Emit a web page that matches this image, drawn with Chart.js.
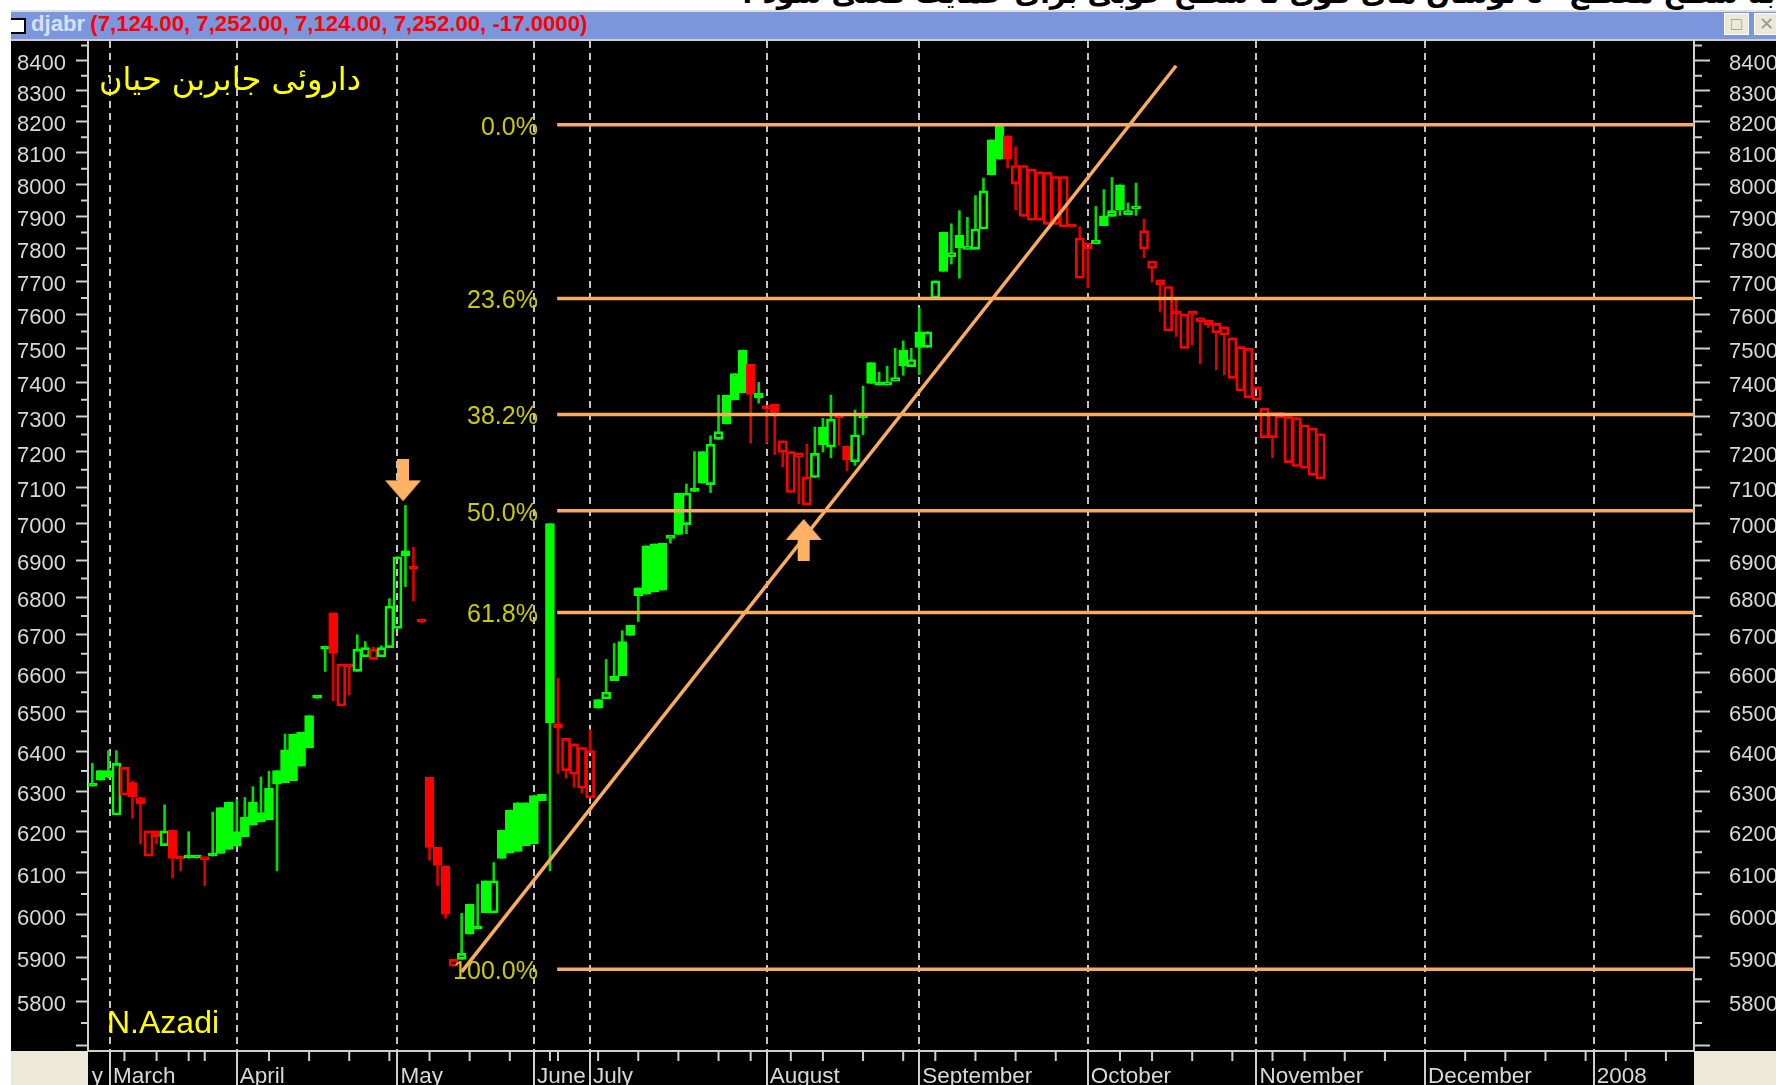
<!DOCTYPE html>
<html>
<head>
<meta charset="utf-8">
<title>djabr</title>
<script src="https://cdn.jsdelivr.net/npm/chart.js@4/dist/chart.umd.min.js"></script>
<style>
html, body { margin: 0; padding: 0; background: #fff; overflow: hidden; }
#stage { position: relative; width: 1776px; height: 1085px; overflow: hidden; }
#stage div { position: absolute; }
#caption { left: 742px; top: -23px; width: 1060px; text-align: left; direction: rtl; font: bold 28px "DejaVu Sans"; color: #000; white-space: nowrap; }
#bar { left: 11px; top: 10px; right: 0; height: 31px; background: #7b96dd; border-top: 2px solid #ddd; border-bottom: 2px solid #ccc; box-sizing: border-box; font: bold 22.2px "Liberation Sans"; line-height: 24px; white-space: nowrap; }
#bar span { color: #ff0000; }
#bar b { color: #d5e0f5; margin-left: 20px; margin-right: 5px; }
#panel { left: 11px; top: 41px; right: 0; bottom: 0; background: #000; }
.beige { top: 1051px; height: 34px; background: #ece9d8; }
#icon { left: 11px; top: 18px; width: 15px; height: 16px; background: #fff; border: 2px solid #000; border-left: 0; box-sizing: border-box; }
.btn { top: 13px; width: 25px; height: 22px; background: #ece9d8; border: 1px solid #fff; box-sizing: border-box; color: #999; font: 18px "Liberation Sans"; line-height: 20px; text-align: center; }
canvas { position: absolute; left: 0; top: 0; }
</style>
</head>
<body>
<div id="stage">
  <div id="caption">به سطح مقطع ٤٠ نوسان های قوی تا سطح خوبی برای حمایت فعلی شود .</div>
  <div id="panel"></div>
  <div id="bar"><b>djabr</b><span>(7,124.00, 7,252.00, 7,124.00, 7,252.00, -17.0000)</span></div>
  <div id="icon"></div>
  <div class="btn" style="left:1724px">&#9633;</div>
  <div class="btn" style="left:1754px">&#10005;</div>
  <div class="beige" style="left:11px;width:77px"></div>
  <div class="beige" style="left:1694px;right:0"></div>
  <canvas id="chart" width="1776" height="1085"></canvas>
</div>
<script>
// bar slot of every session, in order
const sessions = [];
for (let i = 0; i <= 153; i++) sessions.push(i);

// close over open draws hollow, close under open draws filled
const opens = [6319,6351,6351,6241,6290,6321,6284,6141,6202,6166,6204,6137,6136,6136,6132,6141,6259,6273,6200,6235,
  6273,6247,6307,6351,6403,6443,6448,6490,6535,6662,6758,6515,6616,6604,6642,6635,6642,6666,6717,6912,
  6875,6733,6334,6162,6117,5880,5896,6025,5967,6081,6005,6204,6253,6271,6271,6289,6292,7000,6470,6351,
  6342,6307,6283,6531,6533,6592,6682,6725,6825,6939,6944,6946,6959,7084,6997,7089,7201,7108,7236,7363,
  7426,7495,7453,7355,7332,7337,7199,7086,7185,7051,7128,7271,7214,7303,7217,7172,7297,7458,7397,7392,
  7404,7495,7446,7549,7503,7650,7851,7776,7841,7798,7798,7861,8142,8195,8155,8002,7900,7888,7888,7875,
  7875,7867,7867,7710,7799,7815,7902,7900,7999,7905,7923,7799,7740,7690,7552,7602,7500,7607,7579,7569,
  7546,7540,7412,7375,7355,7349,7241,7241,7298,7170,7159,7154,7134,7124];
const closes = [6312,6327,6336,6369,6359,6286,6268,6202,6188,6202,6135,6134,6136,6136,6132,6141,6147,6157,6165,6188,
  6216,6224,6229,6317,6321,6326,6362,6408,6535,6662,6651,6623,6616,6662,6666,6662,6666,6776,6909,6925,
  6875,6733,6162,6118,6002,5896,5910,5955,5967,6005,6081,6135,6148,6152,6166,6170,6276,6472,6459,6432,
  6418,6409,6401,6509,6550,6580,6593,6698,6804,6808,6814,6819,6959,6970,7084,7089,7112,7222,7258,7280,
  7349,7370,7365,7368,7324,7313,7232,7201,7196,7130,7196,7220,7294,7297,7177,7249,7301,7397,7392,7402,
  7414,7449,7467,7503,7549,7702,7731,7788,7803,7806,7861,7980,8030,8080,8080,8060,8060,8048,8040,8038,
  8025,8025,7867,7833,7817,7827,7871,7918,7921,7918,7930,7856,7762,7705,7685,7602,7602,7601,7591,7584,
  7574,7564,7531,7505,7500,7387,7325,7313,7313,7301,7298,7277,7268,7252];
const highs = [6369,6351,6401,6401,6359,6325,6284,6202,6202,6266,6204,6137,6200,6136,6132,6248,6259,6273,6279,6284,
  6311,6335,6349,6351,6443,6443,6448,6490,6535,6662,6758,6623,6616,6700,6682,6667,6671,6796,6909,7050,
  6935,6733,6334,6162,6117,5896,6004,6025,6073,6081,6125,6204,6253,6271,6271,6289,6292,7000,6586,6432,
  6418,6409,6454,6531,6635,6677,6711,6725,6825,6939,6944,6946,6959,7084,7110,7201,7201,7246,7363,7363,
  7426,7495,7453,7400,7332,7337,7232,7201,7196,7222,7271,7296,7363,7303,7217,7320,7389,7458,7430,7447,
  7500,7522,7500,7620,7549,7702,7851,7877,7918,7897,7965,8020,8142,8195,8155,8120,8060,8048,8040,8038,
  8025,8025,7867,7868,7817,7931,7984,8022,7999,7942,8004,7892,7762,7705,7685,7644,7602,7607,7591,7584,
  7574,7564,7531,7505,7500,7387,7325,7313,7313,7301,7298,7277,7268,7252];
const lows = [6312,6327,6332,6241,6290,6233,6170,6141,6170,6166,6088,6105,6136,6136,6070,6141,6147,6157,6165,6188,
  6216,6224,6229,6105,6321,6326,6362,6408,6535,6604,6528,6515,6543,6604,6642,6635,6642,6666,6717,6828,
  6790,6733,6131,6070,5992,5880,5896,5955,5967,6005,6005,6135,6148,6152,6166,6170,6276,6105,6344,6332,
  6309,6295,6283,6509,6533,6580,6593,6698,6735,6808,6814,6819,6946,6970,6972,7089,7112,7086,7236,7280,
  7349,7370,7225,7340,7225,7193,7158,7086,7055,7051,7128,7200,7184,7219,7147,7162,7249,7397,7392,7392,
  7404,7421,7446,7423,7503,7650,7731,7753,7710,7798,7798,7861,8030,8080,8052,7920,7900,7888,7888,7875,
  7875,7867,7867,7710,7681,7815,7871,7900,7903,7905,7903,7773,7698,7610,7552,7535,7500,7510,7455,7562,
  7437,7422,7412,7375,7355,7349,7241,7184,7298,7170,7159,7154,7134,7124];
// 1 = session closed up on the day before, 0 = closed down
const upDays = [1,1,1,1,0,0,0,0,0,1,0,0,1,1,0,1,1,1,1,1,
  1,1,1,1,1,1,1,1,1,1,0,0,0,1,1,0,1,1,1,1,
  0,0,0,0,0,0,1,1,1,1,1,1,1,1,1,1,1,1,0,0,
  0,0,0,1,1,1,1,1,1,1,1,1,1,1,1,1,1,1,1,1,
  1,1,0,1,0,0,0,0,0,0,1,1,1,0,0,1,1,1,1,1,
  1,1,1,1,1,1,1,1,1,1,1,1,1,1,0,0,0,0,0,0,
  0,0,0,0,0,1,1,1,1,1,1,0,0,0,0,0,0,0,0,0,
  0,0,0,0,0,0,0,0,0,0,0,0,0,0];

const fibLevels = [8190, 7649, 7307, 7035, 6759, 5873];
const fibLabels = ['0.0%', '23.6%', '38.2%', '50.0%', '61.8%', '100.0%'];
const fibStart = 57.9;
const fibEnd = 199.5;

const trendX = [46, 135];
const trendY = [5867, 8383];

const arrowsX = [38.7, 88.6];
const arrowsY = [7120, 6955];

const yTickValues = [5700,5800,5900,6000,6100,6200,6300,6400,6500,6600,6700,6800,6900,7000,7100,7200,7300,7400,7500,
  7600,7700,7800,7900,8000,8100,8200,8300,8400];
const yMinorValues = [5750,5850,5950,6050,6150,6250,6350,6450,6550,6650,6750,6850,6950,7050,7150,7250,7350,7450,7550,
  7650,7750,7850,7950,8050,8150,8250,8350,8450];
const monthTicks = [-0.45, 2.2, 18, 38, 55, 62, 84, 103, 124, 145, 166, 187];
const monthLabels = ['y', 'March', 'April', 'May', 'June', 'July', 'August', 'September', 'October', 'November', 'December', '2008'];
const weekTicks = [4,8,12,14,22,27,32,37,42,47,52,57,58,63,68,73,78,82,87,91,96,101,105,110,115,120,128,132,137,142,147,151,156,161,171,176,181,186,191,196];

const GREEN = '#00ff00', RED = '#ff0000', ORANGE = '#f9ab62', AXIS = '#cfcfcf';

function bodyColor(i) { return upDays[i] ? GREEN : RED; }
function wickColor(i) { return upDays[i] ? '#00dd00' : '#dd0000'; }

const bodies = sessions.map((s, i) => ({ x: s, y: [opens[i], closes[i]] }));
const upperWicks = sessions.map((s, i) => ({ x: s, y: [Math.max(opens[i], closes[i]), highs[i]] }));
const lowerWicks = sessions.map((s, i) => ({ x: s, y: [lows[i], Math.min(opens[i], closes[i])] }));

// Arrow markers, the down one first
function arrowImage(down) {
  const c = document.createElement('canvas');
  c.width = 36; c.height = 42;
  const g = c.getContext('2d');
  if (down) { g.translate(0, 42); g.scale(1, -1); }
  g.fillStyle = '#ffb266';
  g.beginPath();
  g.moveTo(18, 0); g.lineTo(36, 21); g.lineTo(24, 21); g.lineTo(24, 42);
  g.lineTo(12, 42); g.lineTo(12, 21); g.lineTo(0, 21);
  g.closePath();
  g.fill();
  return c;
}

const wickSet = (label, data) => ({
  type: 'bar', label, data, grouped: false, barThickness: 2, order: 5,
  backgroundColor: c => wickColor(c.dataIndex), borderWidth: 0
});

const datasets = [
  wickSet('upper', upperWicks),
  wickSet('lower', lowerWicks),
  {
    type: 'bar', label: 'body', data: bodies, grouped: false, barThickness: 9, minBarLength: 3, order: 4,
    backgroundColor: c => (closes[c.dataIndex] > opens[c.dataIndex] ? 'transparent' : bodyColor(c.dataIndex)),
    borderColor: c => bodyColor(c.dataIndex),
    borderWidth: 2, borderSkipped: false
  },
  ...fibLevels.map(v => ({
    type: 'line', label: 'fib', data: [{ x: fibStart, y: v }, { x: fibEnd, y: v }],
    borderColor: ORANGE, borderWidth: 3.5, pointRadius: 0, order: 2
  })),
  {
    type: 'line', label: 'trend', data: trendX.map((x, i) => ({ x, y: trendY[i] })),
    borderColor: ORANGE, borderWidth: 3.5, pointRadius: 0, order: 1
  },
  {
    type: 'scatter', label: 'arrows', data: arrowsX.map((x, i) => ({ x, y: arrowsY[i] })),
    pointStyle: [arrowImage(true), arrowImage(false)], order: 0
  }
];

// Minor marks on the axes and the free texts on the chart
const extras = {
  id: 'extras',
  afterDraw(chart) {
    const g = chart.ctx;
    const { y, x } = chart.scales;
    const area = chart.chartArea;
    g.save();
    g.strokeStyle = AXIS;
    g.lineWidth = 2;
    g.beginPath();
    yMinorValues.forEach(v => {
      const p = y.getPixelForValue(v);
      g.moveTo(area.left, p); g.lineTo(area.left - 7, p);
      g.moveTo(area.right, p); g.lineTo(area.right + 8, p);
    });
    weekTicks.forEach(v => {
      const p = x.getPixelForValue(v);
      g.moveTo(p, area.bottom); g.lineTo(p, area.bottom + 10);
    });
    g.stroke();

    g.textBaseline = 'middle';
    g.textAlign = 'right';
    g.fillStyle = '#caca00';
    g.font = '25px "Liberation Sans"';
    const lx = x.getPixelForValue(55.5);
    fibLevels.forEach((v, i) => g.fillText(fibLabels[i], lx, y.getPixelForValue(v) + 3));

    g.fillStyle = '#ffff00';
    g.textAlign = 'left';
    g.font = '32px "Liberation Sans"';
    g.fillText('N.Azadi', 107, 1024);
    g.direction = 'rtl';
    g.textAlign = 'right';
    g.font = '32px "DejaVu Sans"';
    g.fillText('داروئی جابربن حیان', 361, 82);
    g.restore();
  }
};

const yAxis = (position, tickLength, pad) => ({
  type: 'logarithmic', position, min: 5687, max: 8465,
  afterBuildTicks: s => { s.ticks = yTickValues.map(value => ({ value })); },
  afterFit: s => { s.width = position === 'left' ? 88 : 82; },
  border: { display: true, color: AXIS, width: 2 },
  grid: { drawOnChartArea: false, drawTicks: true, tickLength, tickColor: AXIS, tickWidth: 2 },
  ticks: {
    color: '#d8d8d8', padding: pad, autoSkip: false, labelOffset: 3.5,
    font: { family: '"Liberation Sans"', size: 22 },
    callback: v => (v === 5700 ? '' : String(v))
  }
});

new Chart(document.getElementById('chart'), {
  data: { datasets },
  plugins: [extras],
  options: {
    responsive: false,
    animation: false,
    layout: { padding: { top: 41, left: 0, right: 0, bottom: 0 } },
    plugins: { legend: { display: false }, tooltip: { enabled: false } },
    scales: {
      x: {
        type: 'linear', min: -0.54, max: 199.5, offset: false,
        afterBuildTicks: s => { s.ticks = monthTicks.map(value => ({ value })); },
        afterFit: s => { s.height = 34; },
        border: { display: true, color: AXIS, width: 2, dash: [7, 5] },
        grid: {
          offset: false, drawTicks: true, tickLength: 34,
          color: c => (c.tick && c.tick.value < 0 ? 'transparent' : '#c4c4c4'),
          tickColor: c => (c.tick && c.tick.value < 0 ? 'transparent' : AXIS),
          lineWidth: 2, tickBorderDash: []
        },
        ticks: {
          color: '#d8d8d8', align: 'start', labelOffset: 3, padding: -22, autoSkip: false, maxRotation: 0,
          font: { family: '"Liberation Sans"', size: 22.5 },
          callback: v => monthLabels[monthTicks.indexOf(v)]
        }
      },
      y: yAxis('left', 12, 10),
      right: yAxis('right', 16, 19)
    }
  }
});
</script>
</body>
</html>
